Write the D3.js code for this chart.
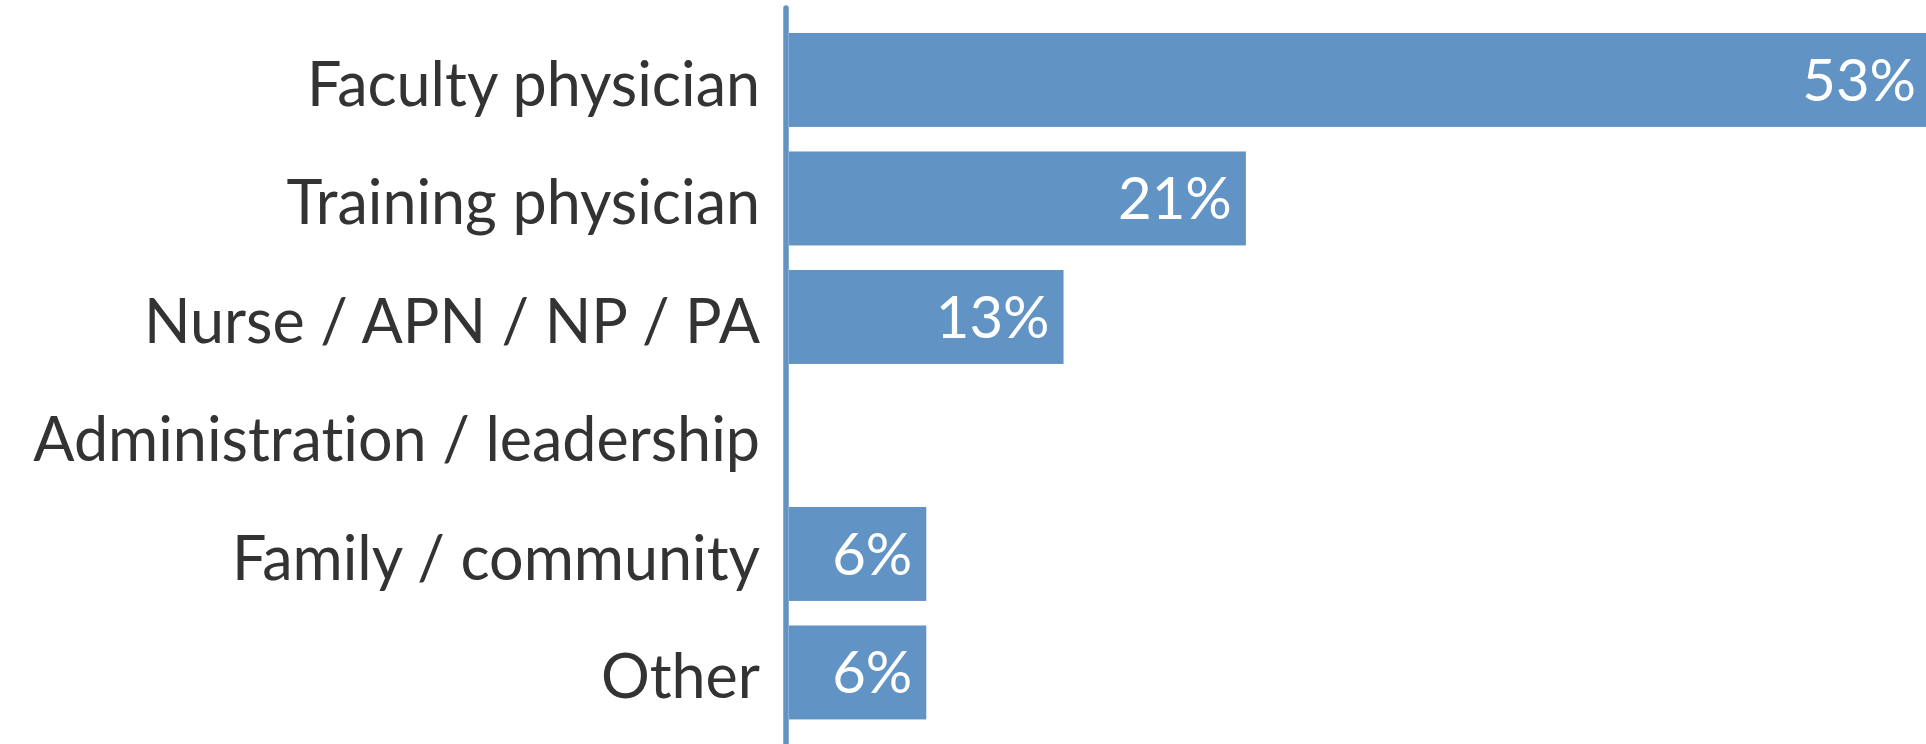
<!DOCTYPE html>
<html>
<head>
<meta charset="utf-8">
<script src="https://cdnjs.cloudflare.com/ajax/libs/d3/7.8.5/d3.min.js"></script>
<style>
  html, body { margin: 0; padding: 0; background: #fff; }
  svg { display: block; }
  .cat, .val { font-family: Lato, "Noto Sans", sans-serif; font-variant-ligatures: none; }
  .cat { fill: #333; }
  .val { fill: #fff; }
</style>
</head>
<body>
<div id="chart"></div>
<script>
var categories = ["Faculty physician", "Training physician", "Nurse / APN / NP / PA",
                  "Administration / leadership", "Family / community", "Other"];
var values = [53.2, 21.3, 12.8, 0, 6.4, 6.4];
var valueLabels = ["53%", "21%", "13%", "", "6%", "6%"];

var width = 1926,
    height = 744,
    x0 = 789;

var svg = d3.select("#chart")
  .append("svg")
    .attr("width", width)
    .attr("height", height);

var x = d3.scaleLinear()
    .domain([0, 10])
    .range([x0, x0 + 214.5]);

var y = d3.scaleBand()
    .domain(categories)
    .range([20.7, 731.7])
    .paddingInner(0.207)
    .paddingOuter(0.1035);

var rows = categories.map(function(c, i) {
  return {cat: c, value: values[i], label: valueLabels[i]};
});

svg.selectAll("rect.bar")
    .data(rows.filter(function(d) { return d.value > 0; }))
  .enter().append("rect")
    .attr("class", "bar")
    .attr("x", x(0))
    .attr("y", function(d) { return y(d.cat); })
    .attr("width", function(d) { return x(d.value) - x(0); })
    .attr("height", y.bandwidth())
    .attr("fill", "#6193c4");

// axis line
svg.append("line")
    .attr("x1", x(0) - 3)
    .attr("x2", x(0) - 3)
    .attr("y1", 8)
    .attr("y2", height + 5)
    .attr("stroke", "#6193c4")
    .attr("stroke-width", 5.5)
    .attr("stroke-linecap", "round");

svg.selectAll("text.cat")
    .data(rows)
  .enter().append("text")
    .attr("class", "cat")
    .attr("x", x(0) - 29)
    .attr("y", function(d) { return y(d.cat) + y.bandwidth() / 2 + 25.7; })
    .attr("text-anchor", "end")
    .attr("font-size", "61px")
    .text(function(d) { return d.cat; });

svg.selectAll("text.val")
    .data(rows.filter(function(d) { return d.value > 0; }))
  .enter().append("text")
    .attr("class", "val")
    .attr("x", function(d) { return x(d.value) - 14; })
    .attr("y", function(d) { return y(d.cat) + y.bandwidth() / 2 + 21; })
    .attr("text-anchor", "end")
    .attr("font-size", "58px")
    .text(function(d) { return d.label; });
</script>
</body>
</html>
